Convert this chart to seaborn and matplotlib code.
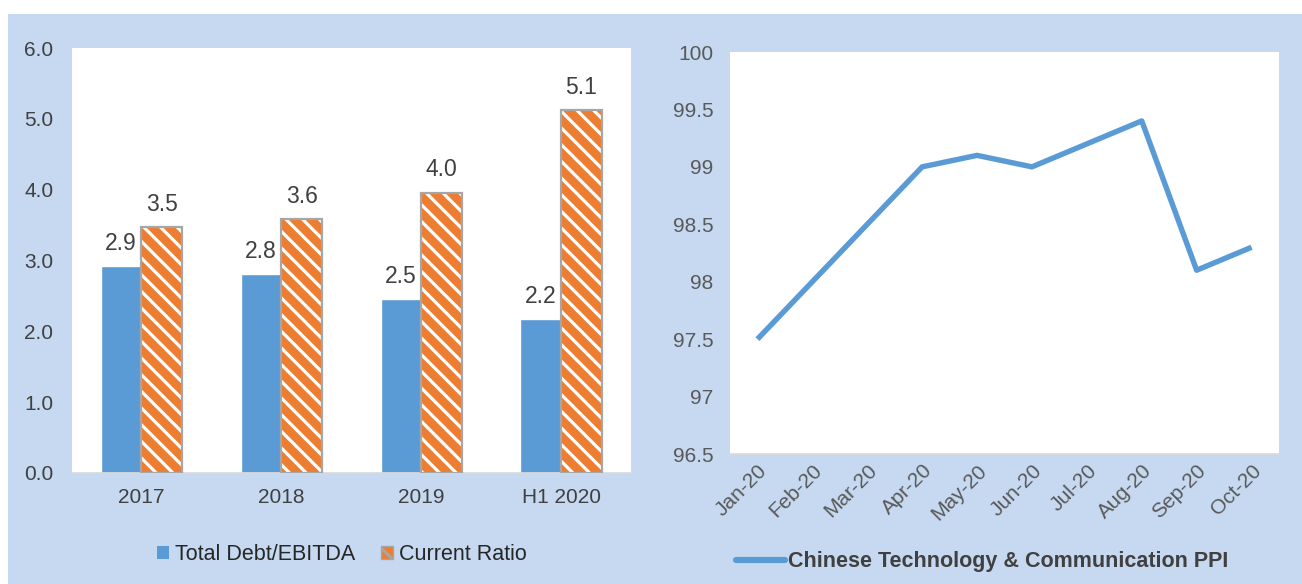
import numpy as np
import pandas as pd
import matplotlib
matplotlib.use("Agg")
import matplotlib.pyplot as plt
import seaborn as sns
from matplotlib.patches import Rectangle, Patch
from matplotlib.lines import Line2D

# ---- data ----
years = ["2017", "2018", "2019", "H1 2020"]
debt_ebitda = [2.92, 2.81, 2.46, 2.17]
current_ratio = [3.47, 3.58, 3.96, 5.12]
series_names = ["Total Debt/EBITDA", "Current Ratio"]

months = ["Jan-20", "Feb-20", "Mar-20", "Apr-20", "May-20", "Jun-20",
          "Jul-20", "Aug-20", "Sep-20", "Oct-20"]
ppi = [97.5, 98.0, 98.5, 99.0, 99.1, 99.0, 99.2, 99.4, 98.1, 98.3]
ppi_name = "Chinese Technology & Communication PPI"

left_yticks = [0, 1, 2, 3, 4, 5, 6]
right_yticks = [96.5, 97, 97.5, 98, 98.5, 99, 99.5, 100]

# ---- style ----
sns.set_theme(style="white")
plt.rcParams['font.family'] = ['Liberation Sans', 'DejaVu Sans']
plt.rcParams['hatch.linewidth'] = 2.3

BLUE = "#5B9BD5"
ORANGE = "#ED7D31"
BG = "#C6D9F0"
DARK = "#404040"
GRAY = "#595959"
TICK_FS = 15

fig = plt.figure(figsize=(13.02, 5.84), dpi=100)
fig.patch.set_facecolor("white")
fig.patches.append(Rectangle((8/1302, 0), 1 - 8/1302, 1 - 14/584,
                             transform=fig.transFigure, facecolor=BG,
                             edgecolor="none", zorder=-10))

# ---- left: bar chart ----
ax1 = fig.add_axes([71.5/1302, 1 - 473/584, (631 - 71.5)/1302, (473 - 48)/584])
df = pd.DataFrame({
    "year": years * 2,
    "value": debt_ebitda + current_ratio,
    "series": [series_names[0]] * len(years) + [series_names[1]] * len(years),
})
sns.barplot(data=df, x="year", y="value", hue="series", order=years,
            hue_order=series_names, palette=[BLUE, ORANGE], width=0.58,
            gap=0, saturation=1, legend=False, ax=ax1)
ax1.set_facecolor("white")
ax1.set_ylim(0, 6)
ax1.set_yticks(left_yticks)
ax1.set_yticklabels([f"{v:.1f}" for v in left_yticks])
ax1.set_xlabel("")
ax1.set_ylabel("")
for s in ["top", "right", "left"]:
    ax1.spines[s].set_visible(False)
ax1.spines["bottom"].set_color("#D9D9D9")
ax1.spines["bottom"].set_linewidth(1.2)
ax1.tick_params(axis="both", length=0, labelsize=TICK_FS, colors=DARK)
ax1.tick_params(axis="y", pad=13)
ax1.tick_params(axis="x", pad=11)

c_blue, c_orange = ax1.containers[0], ax1.containers[1]
for p in c_orange:
    p.set_facecolor(ORANGE)
    p.set_edgecolor("white")
    p.set_linewidth(0)
    p.set_hatch("\\\\")
    ax1.add_patch(Rectangle((p.get_x(), p.get_y()), p.get_width(), p.get_height(),
                            fill=False, edgecolor="#A6A6A6", linewidth=1.6, zorder=3))
ax1.bar_label(c_blue, fmt="%.1f", padding=8, fontsize=16.5, color=DARK)
ax1.bar_label(c_orange, fmt="%.1f", padding=8, fontsize=16.5, color=DARK)

leg_handles = [
    Patch(facecolor=BLUE, edgecolor="none"),
    Patch(facecolor=ORANGE, edgecolor="#A6A6A6", hatch="\\"),
]
fig.legend(leg_handles, series_names, loc="center", bbox_to_anchor=(342/1302, 1 - 555/584),
           ncol=2, frameon=False, fontsize=15.5, handlelength=0.55, handleheight=0.55,
           handletextpad=0.3, columnspacing=1.2, labelcolor="#262626")

# ---- right: line chart ----
ax2 = fig.add_axes([730/1302, 1 - 454/584, (1279 - 730)/1302, (454 - 52)/584])
sns.lineplot(x=months, y=ppi, sort=False, color=BLUE, linewidth=3.9, ax=ax2,
             solid_capstyle="butt")
ax2.set_facecolor("white")
ax2.set_ylim(96.5, 100)
ax2.set_yticks(right_yticks)
ax2.set_yticklabels([f"{v:g}" for v in right_yticks])
ax2.set_xlim(-0.5, len(months) - 0.5)
for s in ["top", "right", "left"]:
    ax2.spines[s].set_visible(False)
ax2.spines["bottom"].set_color("#D9D9D9")
ax2.spines["bottom"].set_linewidth(1.2)
ax2.tick_params(axis="both", length=0, labelsize=TICK_FS, colors=GRAY)
ax2.tick_params(axis="y", pad=12)
ax2.tick_params(axis="x", pad=5)
for lab in ax2.get_xticklabels():
    lab.set_rotation(45)
    lab.set_ha("right")
    lab.set_rotation_mode("anchor")

fig.legend([Line2D([0], [0], color=BLUE, linewidth=4.5)], [ppi_name], loc="center",
           bbox_to_anchor=(982/1302, 1 - 562/584), frameon=False,
           prop={"size": 15.5, "weight": "bold"}, handlelength=2.3, handletextpad=0.15,
           labelcolor=DARK)

fig.savefig("out.png", dpi=100, facecolor=fig.get_facecolor())
